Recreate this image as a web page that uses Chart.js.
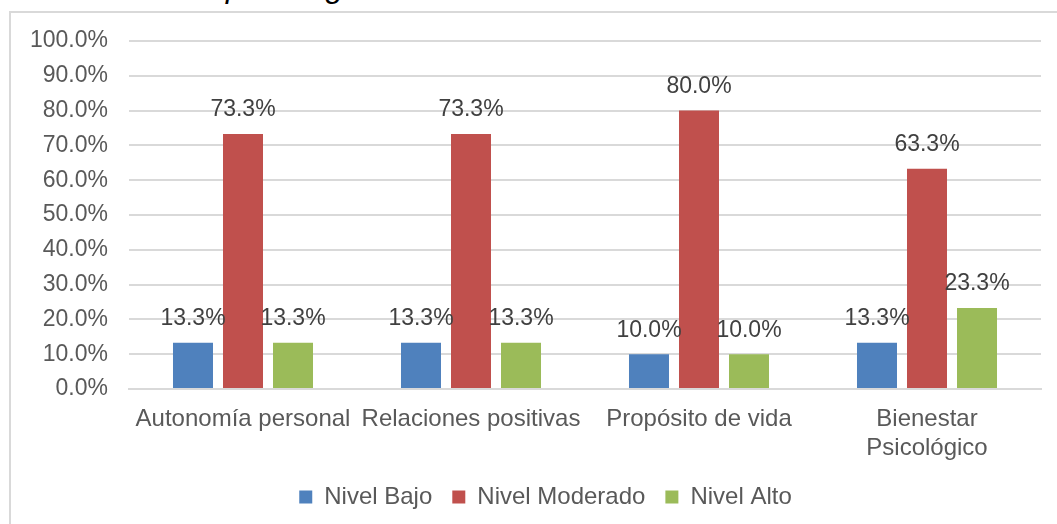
<!DOCTYPE html>
<html lang="es">
<head>
    <meta charset="utf-8" />
    <title>Bienestar psicológico</title>
    <script src="https://cdn.jsdelivr.net/npm/chart.js"></script>
    <style>
        html, body {
            margin: 0;
            padding: 0;
            overflow: hidden;
            background: #fff;
        }

        /* cut-off caption above the chart frame */
        .caption {
            position: absolute;
            left: 82px;
            top: -30px;
            font: italic 32px 'Liberation Sans', Arial, sans-serif;
            line-height: 1;
            color: #000;
            white-space: nowrap;
        }

        .frame {
            position: absolute;
            left: 9px;
            top: 11px;
            width: 1200px;
            height: 700px;
            border: 2px solid #d9d9d9;
            background: #fff;
        }

        .wrap {
            position: absolute;
            left: 0;
            top: 0;
            width: 1057px;
            height: 524px;
        }
    </style>
</head>
<body>
    <div class="caption">Bienestar psicológico</div>
    <div class="frame"></div>
    <div class="wrap">
        <canvas id="myChart" width="1057" height="524"></canvas>
    </div>
    <script>
        // values (percent)
        const categories = ['Autonomía personal', 'Relaciones positivas', 'Propósito de vida', ['Bienestar', 'Psicológico']];
        const nivelBajo = [13.3, 13.3, 10.0, 13.3];
        const nivelModerado = [73.3, 73.3, 80.0, 63.3];
        const nivelAlto = [13.3, 13.3, 10.0, 23.3];
        const yTicks = [0, 10, 20, 30, 40, 50, 60, 70, 80, 90, 100];

        const FONT = "'Liberation Sans', Arial, sans-serif";

        // draws the value above each bar
        const valueLabels = {
            id: 'valueLabels',
            afterDatasetsDraw(chart) {
                const ctx = chart.ctx;
                ctx.save();
                ctx.font = '23px ' + FONT;
                ctx.fillStyle = '#404040';
                ctx.textAlign = 'center';
                ctx.textBaseline = 'middle';
                chart.data.datasets.forEach((ds, i) => {
                    const meta = chart.getDatasetMeta(i);
                    meta.data.forEach((bar, j) => {
                        ctx.fillText(ds.data[j].toFixed(1) + '%', bar.x, bar.y - 24);
                    });
                });
                ctx.restore();
            }
        };

        // legend in the original sits a bit right of the canvas centre
        const legendShift = {
            id: 'legendShift',
            afterLayout(chart) {
                chart.legend.left += 50;
            }
        };

        const ctx = document.getElementById('myChart').getContext('2d');
        const myChart = new Chart(ctx, {
            type: 'bar',
            data: {
                labels: categories,
                datasets: [
                    { label: 'Nivel Bajo', data: nivelBajo, backgroundColor: '#4F81BD' },
                    { label: 'Nivel Moderado', data: nivelModerado, backgroundColor: '#C0504D' },
                    { label: 'Nivel Alto', data: nivelAlto, backgroundColor: '#9BBB59' }
                ]
            },
            options: {
                responsive: false,
                animation: false,
                categoryPercentage: 0.658,
                barPercentage: 0.8,
                layout: {
                    padding: { left: 0, right: 16, top: 41, bottom: 5 }
                },
                plugins: {
                    title: { display: false },
                    tooltip: { enabled: false },
                    legend: {
                        position: 'bottom',
                        labels: {
                            boxWidth: 13,
                            boxHeight: 13,
                            padding: 20,
                            color: '#595959',
                            font: { family: FONT, size: 24 }
                        }
                    }
                },
                scales: {
                    x: {
                        afterFit: scale => { scale.height = 76; },
                        grid: { display: false, drawTicks: false },
                        border: { color: '#d9d9d9', width: 2 },
                        ticks: {
                            padding: 16,
                            color: '#595959',
                            maxRotation: 0,
                            autoSkip: false,
                            font: { family: FONT, size: 24 }
                        }
                    },
                    y: {
                        min: 0,
                        max: 100,
                        afterFit: scale => { scale.width = 129; },
                        afterBuildTicks: scale => { scale.ticks = yTicks.map(v => ({ value: v })); },
                        border: { display: false },
                        grid: { color: '#d9d9d9', lineWidth: 2, drawTicks: false },
                        ticks: {
                            padding: 21,
                            color: '#595959',
                            font: { family: FONT, size: 23 },
                            callback: v => v.toFixed(1) + '%'
                        }
                    }
                }
            },
            plugins: [valueLabels, legendShift]
        });
    </script>
</body>
</html>
